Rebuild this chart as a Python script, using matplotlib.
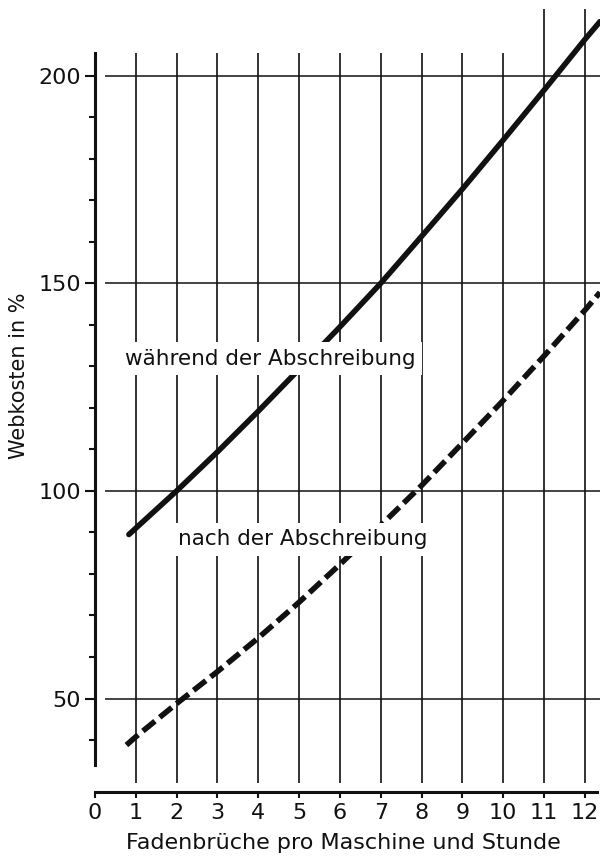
import numpy as np
import matplotlib
matplotlib.use("Agg")
import matplotlib.pyplot as plt

# values
x_waehrend = [0.83, 2, 3, 4, 5, 6, 7, 8, 9, 10, 11, 12, 12.37]
y_waehrend = [89.5, 100, 109.4, 119.2, 129.3, 139.5, 150, 161.3, 172.7, 184.5, 196.5, 208.7, 213]

x_nach = [0.77, 1, 2, 3, 4, 5, 6, 7, 8, 9, 10, 11, 12, 12.37]
y_nach = [38.8, 40.8, 48.8, 56.5, 64.6, 73.2, 82.3, 91.7, 101.3, 111.5, 121.8, 132.5, 143.5, 147.8]

x_ticks = list(range(0, 13))
y_major = [50, 100, 150, 200]
y_minor = [40, 60, 70, 80, 90, 110, 120, 130, 140, 160, 170, 180, 190]

label_waehrend = "während der Abschreibung"
label_nach = "nach der Abschreibung"
xlabel = "Fadenbrüche pro Maschine und Stunde"
ylabel = "Webkosten in %"

ink = "#111111"

fig = plt.figure(figsize=(6, 8.6), dpi=100)
ax = fig.add_axes([95 / 600, 68 / 860, 505 / 600, 792 / 860])
ax.set_xlim(0, 12.37)
ax.set_ylim(27.5, 218.2)

# grid
ax.hlines(y_major, 0.24, 12.37, color=ink, lw=1.1, zorder=1)
ax.vlines(x_ticks[1:11], 29.6, 205.5, color=ink, lw=1.2, zorder=1)
ax.vlines(x_ticks[11:], 29.6, 216, color=ink, lw=1.2, zorder=1)

# curves
ax.plot(x_waehrend, y_waehrend, color=ink, lw=4, solid_capstyle="round", zorder=3)
ax.plot(x_nach, y_nach, color=ink, lw=4, linestyle=(0, (2.8, 1.1)),
        dash_capstyle="butt", zorder=3)

box = dict(boxstyle="square,pad=0.3", fc="white", ec="none")
ax.text(4.29, 131.8, label_waehrend, ha="center", va="center", fontsize=15.5,
        color=ink, bbox=box, zorder=5)
ax.text(5.09, 88.4, label_nach, ha="center", va="center", fontsize=15.5,
        color=ink, bbox=box, zorder=5)

# spines
for s in ["top", "right"]:
    ax.spines[s].set_visible(False)
ax.spines["left"].set_bounds(34, 205.5)
ax.spines["bottom"].set_bounds(0, 12.3)
ax.spines["left"].set_linewidth(2.2)
ax.spines["bottom"].set_linewidth(2.2)
ax.spines["left"].set_color(ink)
ax.spines["bottom"].set_color(ink)

ax.set_xticks(x_ticks)
ax.set_xticklabels([str(t) for t in x_ticks])
ax.set_yticks(y_major)
ax.set_yticks(y_minor, minor=True)
ax.set_yticklabels([str(t) for t in y_major])
ax.tick_params(axis="x", direction="out", length=4, width=1.5, pad=4,
               labelsize=16, colors=ink)
ax.tick_params(axis="y", which="major", direction="out", length=7, width=1.5,
               pad=3, labelsize=16, colors=ink)
ax.tick_params(axis="y", which="minor", direction="out", length=4.5, width=1.5,
               colors=ink)

fig.text(343 / 600, 1 - 843 / 860, xlabel, ha="center", va="center",
         fontsize=16, color=ink)
fig.text(19 / 600, 1 - 376 / 860, ylabel, ha="center", va="center",
         rotation=90, fontsize=15, color=ink)

fig.savefig("out.png", dpi=100, facecolor="white")
